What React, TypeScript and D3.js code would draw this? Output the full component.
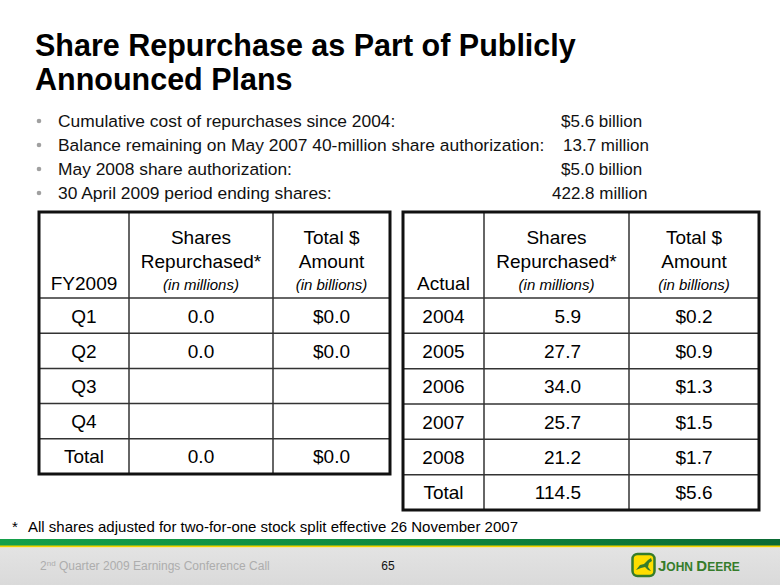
import React from 'react';
import * as d3 from 'd3';

const titleLines = ['Share Repurchase as Part of Publicly', 'Announced Plans'];
const bulletLabels = [
  'Cumulative cost of repurchases since 2004:',
  'Balance remaining on May 2007 40-million share authorization:',
  'May 2008 share authorization:',
  '30 April 2009 period ending shares:',
];
const bulletValues = ['$5.6 billion', '13.7 million', '$5.0 billion', '422.8 million'];

const fyRows = ['Q1', 'Q2', 'Q3', 'Q4', 'Total'];
const fyShares: (number | null)[] = [0.0, 0.0, null, null, 0.0];
const fyAmounts: (number | null)[] = [0.0, 0.0, null, null, 0.0];

const actualRows = ['2004', '2005', '2006', '2007', '2008', 'Total'];
const actualShares = [5.9, 27.7, 34.0, 25.7, 21.2, 114.5];
const actualAmounts = [0.2, 0.9, 1.3, 1.5, 1.7, 5.6];

const headerShares = ['Shares', 'Repurchased*', '(in millions)'];
const headerAmount = ['Total $', 'Amount', '(in billions)'];

const footnote = 'All shares adjusted for two-for-one stock split effective 26 November 2007';
const footerLeft = 'Quarter 2009 Earnings Conference Call';
const pageNumber = '65';

const FONT = '"Liberation Sans", Arial, Helvetica, sans-serif';
const f1 = d3.format('.1f');
const money = (v: number | null) => (v == null ? '' : '$' + f1(v));
const num = (v: number | null) => (v == null ? '' : f1(v));

type TableProps = {
  x0: number; x1: number; c1: number; c2: number; top: number; headBottom: number; bottom: number;
  firstHeader: string; rows: string[]; shares: string[]; amounts: string[];
  sharesX: number; sharesAnchor: 'middle' | 'end'; amountX: number;
};

function Table(p: TableProps) {
  const y = d3.scaleBand<string>().domain(p.rows).range([p.headBottom, p.bottom]);
  const col0 = (p.x0 + p.c1) / 2;
  const col1 = (p.c1 + p.c2) / 2;
  const col2 = (p.c2 + p.x1) / 2;
  const headY = [p.top + 32, p.top + 56, p.top + 78];
  return (
    <g fontFamily={FONT} fill="#000">
      <line x1={p.x0} x2={p.x1} y1={p.headBottom} y2={p.headBottom} stroke="#333" strokeWidth={1.5} />
      {p.rows.slice(1).map((r) => (
        <line key={r} x1={p.x0} x2={p.x1} y1={y(r)!} y2={y(r)!} stroke="#333" strokeWidth={1.5} />
      ))}
      <line x1={p.c1} x2={p.c1} y1={p.top} y2={p.bottom} stroke="#333" strokeWidth={1.5} />
      <line x1={p.c2} x2={p.c2} y1={p.top} y2={p.bottom} stroke="#333" strokeWidth={1.5} />
      <rect x={p.x0} y={p.top} width={p.x1 - p.x0} height={p.bottom - p.top} fill="none" stroke="#111" strokeWidth={3} />
      <text x={col0} y={p.top + 78} textAnchor="middle" fontSize={19}>{p.firstHeader}</text>
      {headerShares.map((t, i) => (
        <text key={t} x={col1} y={headY[i]} textAnchor="middle" fontSize={i === 2 ? 15 : 19} fontStyle={i === 2 ? 'italic' : 'normal'}>{t}</text>
      ))}
      {headerAmount.map((t, i) => (
        <text key={t} x={col2} y={headY[i]} textAnchor="middle" fontSize={i === 2 ? 15 : 19} fontStyle={i === 2 ? 'italic' : 'normal'}>{t}</text>
      ))}
      {p.rows.map((r, i) => {
        const cy = y(r)! + y.bandwidth() / 2 + 7;
        return (
          <g key={r}>
            <text x={col0} y={cy} textAnchor="middle" fontSize={19}>{r}</text>
            <text x={p.sharesX} y={cy} textAnchor={p.sharesAnchor} fontSize={19}>{p.shares[i]}</text>
            <text x={p.amountX} y={cy} textAnchor="middle" fontSize={19}>{p.amounts[i]}</text>
          </g>
        );
      })}
    </g>
  );
}

export default function App() {
  const W = 780, H = 585;
  const bulletY = d3.scaleLinear().domain([0, 3]).range([127, 199]);
  const valueX = [561, 563, 561, 552];
  return (
    <svg width={W} height={H} viewBox={`0 0 ${W} ${H}`} style={{ position: 'absolute', left: 0, top: 0, background: '#fff' }}>
      <defs>
        <linearGradient id="greenBand" x1="0" x2="1" y1="0" y2="0">
          <stop offset="0" stopColor="#14a04a" />
          <stop offset="0.5" stopColor="#0f8a40" />
          <stop offset="1" stopColor="#0b6a34" />
        </linearGradient>
        <linearGradient id="grayBand" x1="0" x2="0" y1="0" y2="1">
          <stop offset="0" stopColor="#e3e3e3" />
          <stop offset="1" stopColor="#dadada" />
        </linearGradient>
      </defs>
      <rect x={0} y={0} width={W} height={H} fill="#fff" />

      {titleLines.map((t, i) => (
        <text key={t} x={35} y={56 + i * 34} fontFamily={FONT} fontWeight="bold" fontSize={30.5} fill="#000">{t}</text>
      ))}

      {bulletLabels.map((t, i) => (
        <g key={t} fontFamily={FONT} fontSize={17.4} fill="#111">
          <circle cx={39} cy={bulletY(i) - 6} r={2.3} fill="#a0a0a0" />
          <text x={58} y={bulletY(i)}>{t}</text>
          <text x={valueX[i]} y={bulletY(i)} fontSize={17}>{bulletValues[i]}</text>
        </g>
      ))}

      <Table x0={39} x1={390} c1={129} c2={273} top={212} headBottom={298} bottom={474}
        firstHeader="FY2009" rows={fyRows} shares={fyShares.map(num)} amounts={fyAmounts.map(money)}
        sharesX={201} sharesAnchor="middle" amountX={331.5} />
      <Table x0={403} x1={759} c1={484} c2={629} top={212} headBottom={298} bottom={510}
        firstHeader="Actual" rows={actualRows} shares={actualShares.map((v) => f1(v))} amounts={actualAmounts.map((v) => money(v))}
        sharesX={581} sharesAnchor="end" amountX={694} />

      <text x={12} y={532} fontFamily={FONT} fontSize={15} fill="#000">*</text>
      <text x={28} y={532} fontFamily={FONT} fontSize={15} fill="#000">{footnote}</text>

      <rect x={0} y={539} width={W} height={7} fill="url(#greenBand)" />
      <rect x={0} y={545.5} width={W} height={2} fill="#f2d200" />
      <rect x={0} y={547.5} width={W} height={H - 547.5} fill="url(#grayBand)" />
      <text x={40} y={570} fontFamily={FONT} fontSize={12} fill="#adadad">
        2<tspan fontSize={8} dy={-4}>nd</tspan><tspan dy={4}> {footerLeft}</tspan>
      </text>
      <text x={388} y={570} textAnchor="middle" fontFamily={FONT} fontSize={12} fill="#111">{pageNumber}</text>

      <g>
        <rect x={632.5} y={554} width={22} height={22} rx={5} fill="#ffde00" stroke="#367c2b" strokeWidth={2.5} />
        <path d="M636 570 L640 565 L644 564 L648 560 L651 558 L652 561 L649 563 L648 567 L651 571 L648 570 L645 567 L641 568 Z" fill="#367c2b" />
        <text x={658} y={571} fontFamily={FONT} fontWeight="bold" fill="#367c2b">
          <tspan fontSize={15}>J</tspan><tspan fontSize={12}>OHN </tspan><tspan fontSize={15}>D</tspan><tspan fontSize={12}>EERE</tspan>
        </text>
      </g>
    </svg>
  );
}
